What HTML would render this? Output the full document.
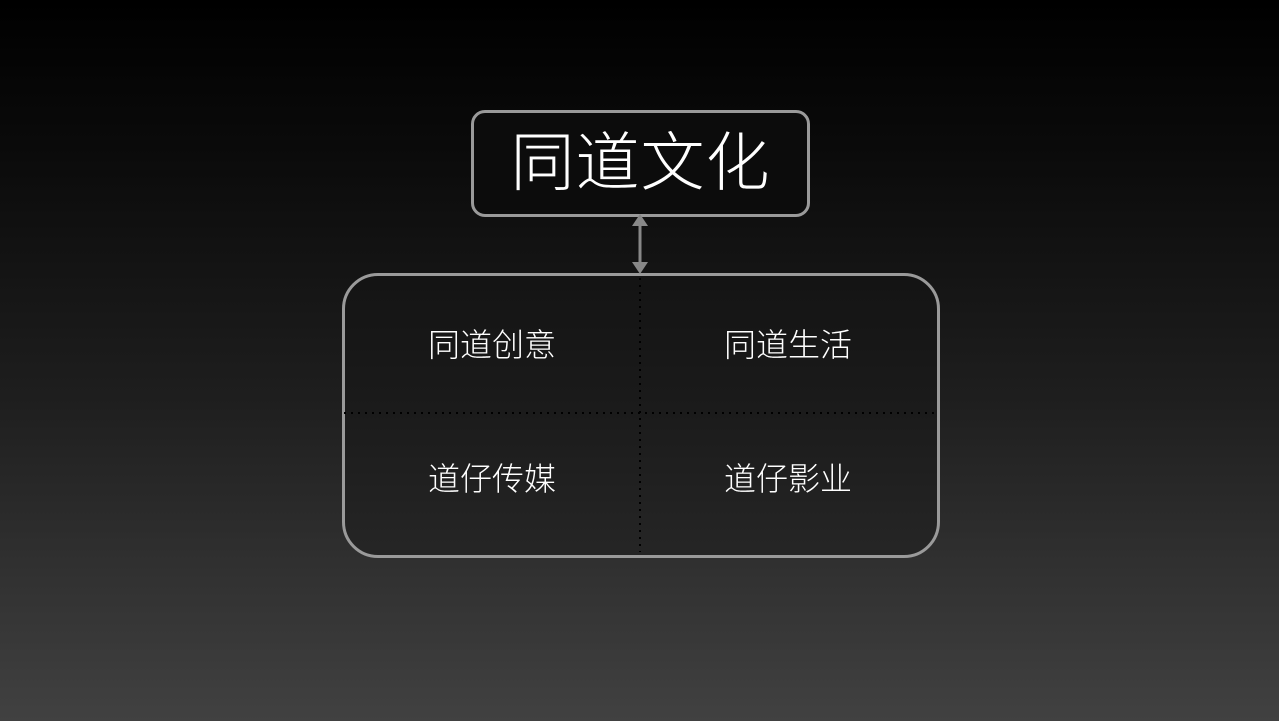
<!DOCTYPE html>
<html><head><meta charset="utf-8"><style>
html,body{margin:0;padding:0}
body{width:1279px;height:721px;overflow:hidden;position:relative;background:linear-gradient(#000 0%,#0a0a0a 20%,#1e1e1e 55%,#414141 100%);font-family:"Liberation Sans","Noto Sans CJK SC",sans-serif;color:#fff}
.t{position:absolute;left:471px;top:110px;width:333px;height:101px;border:3px solid #9a9a9a;border-radius:14px;background:#0c0c0c;text-align:center;line-height:101px;font-size:64px;font-weight:300;letter-spacing:1px}
.b{position:absolute;left:342px;top:273px;width:592px;height:279px;border:3px solid #9a9a9a;border-radius:36px;background:rgba(20,20,20,0.35)}
.l{position:absolute;font-size:32px;font-weight:300;width:200px;text-align:center;line-height:40px}
</style></head><body>
<div class="t">同道文化</div>
<div class="b"></div>
<svg width="1279" height="721" style="position:absolute;left:0;top:0">
<line x1="344" y1="413" x2="934" y2="413" stroke="#000" stroke-width="2" stroke-dasharray="2 5"/>
<line x1="640" y1="278" x2="640" y2="552" stroke="#000" stroke-width="2" stroke-dasharray="2 5"/>
<line x1="640" y1="222" x2="640" y2="266" stroke="#888" stroke-width="3"/>
<polygon points="640,214 632,226 648,226" fill="#888"/>
<polygon points="640,274 632,262 648,262" fill="#888"/>
</svg>
<div class="l" style="left:392px;top:325px">同道创意</div>
<div class="l" style="left:688px;top:325px">同道生活</div>
<div class="l" style="left:392px;top:459px">道仔传媒</div>
<div class="l" style="left:688px;top:459px">道仔影业</div>
</body></html>
